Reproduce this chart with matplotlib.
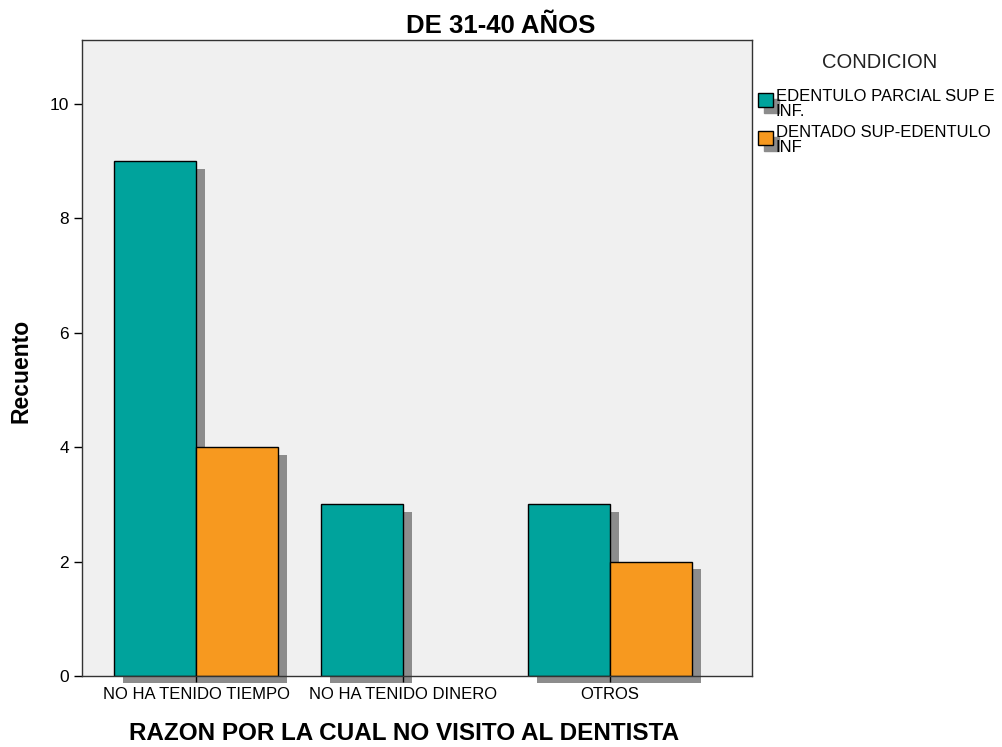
import numpy as np
import matplotlib.pyplot as plt
from matplotlib.patches import Rectangle

plt.rcParams["font.family"] = ["Liberation Sans", "DejaVu Sans"]

# Data
categories = ["NO HA TENIDO TIEMPO", "NO HA TENIDO DINERO", "OTROS"]
series_names = ["EDENTULO PARCIAL SUP E\nINF.", "DENTADO SUP-EDENTULO\nINF"]
edentulo_parcial = [9, 3, 3]
dentado_sup = [4, 0, 2]
y_ticks = [0, 2, 4, 6, 8, 10]

teal = "#00A39C"
orange = "#F7991F"
shadow = "#8C8C8C"

fig = plt.figure(figsize=(10.02, 7.47), dpi=100)
ax = fig.add_axes([0.0818, 0.095, 0.6687, 0.8515])
ax.set_facecolor("#F0F0F0")

x = np.arange(len(categories))
w = 0.396
dx, dy = 0.042, 0.13

for vals, off in [(edentulo_parcial, -w / 2), (dentado_sup, w / 2)]:
    for xi, v in zip(x, vals):
        if v <= 0:
            continue
        # drop shadow
        ax.bar(xi + off + dx, v, width=w, bottom=-dy, color=shadow,
               edgecolor="none", clip_on=False, zorder=1)
for vals, off, col in [(edentulo_parcial, -w / 2, teal), (dentado_sup, w / 2, orange)]:
    heights = [v if v > 0 else np.nan for v in vals]
    ax.bar(x + off, heights, width=w, color=col, edgecolor="black",
           linewidth=1.0, zorder=3)

ax.set_xlim(-0.551, 2.686)
ax.set_ylim(0, 11.12)
ax.set_xticks(x)
ax.set_xticklabels(categories, fontsize=12)
ax.set_yticks(y_ticks)
ax.tick_params(axis="y", labelsize=12.5, length=6, width=1, direction="out")
ax.tick_params(axis="x", length=4, width=1, direction="out", pad=4)
for s in ax.spines.values():
    s.set_linewidth(1.0)
    s.set_color("#333333")
    s.set_zorder(5)

ax.set_ylabel("Recuento", fontsize=16.5, fontweight="bold")
ax.yaxis.set_label_coords(-0.091, 0.48)
ax.set_xlabel("RAZON POR LA CUAL NO VISITO AL DENTISTA", fontsize=17.5,
              fontweight="bold")
ax.xaxis.set_label_coords(0.48, -0.09)
ax.xaxis.label.set_va("center")
ax.yaxis.label.set_va("center")
fig.text(0.5, 0.965, "DE 31-40 AÑOS", ha="center", va="center",
         fontsize=18.5, fontweight="bold")

# legend drawn in figure coordinates
fig.text(0.878, 0.917, "CONDICION", ha="center", va="center", fontsize=14.5,
         color="#222222")
text_y = [0.861, 0.813]
box_y = [0.857, 0.806]
for ty, by, col, name in zip(text_y, box_y, [teal, orange], series_names):
    fig.patches.append(Rectangle((0.7625, by - 0.008), 0.015, 0.0187,
                                 transform=fig.transFigure, color=shadow,
                                 zorder=1))
    fig.patches.append(Rectangle((0.7565, by), 0.015, 0.0187,
                                 transform=fig.transFigure, facecolor=col,
                                 edgecolor="black", linewidth=1, zorder=2))
    fig.text(0.774, ty, name, ha="left", va="center", fontsize=12,
             linespacing=1.0)

fig.savefig("out.png", dpi=100)
